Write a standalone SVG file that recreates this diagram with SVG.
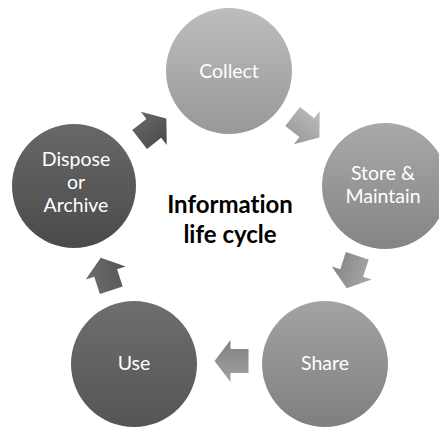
<svg xmlns="http://www.w3.org/2000/svg" width="439" height="428" viewBox="0 0 439 428">
<style>
text{font-variant-ligatures:none}
.lbl{font-family:Lato,"Open Sans","Liberation Sans",sans-serif;font-size:19.5px;fill:#ffffff;text-anchor:middle}
.title{font-family:Lato,"Open Sans","Liberation Sans",sans-serif;font-size:24px;font-weight:bold;fill:#000000;text-anchor:middle}
</style>
<defs>
<linearGradient id="g1" x1="0" y1="0" x2="0" y2="1"><stop offset="0" stop-color="#bdbdbd"/><stop offset="1" stop-color="#989898"/></linearGradient>
<linearGradient id="g2" x1="0" y1="0" x2="0" y2="1"><stop offset="0" stop-color="#a9a9a9"/><stop offset="1" stop-color="#848484"/></linearGradient>
<linearGradient id="g3" x1="0" y1="0" x2="0" y2="1"><stop offset="0" stop-color="#a3a3a3"/><stop offset="1" stop-color="#7f7f7f"/></linearGradient>
<linearGradient id="g4" x1="0" y1="0" x2="0" y2="1"><stop offset="0" stop-color="#6e6e6e"/><stop offset="1" stop-color="#555555"/></linearGradient>
<linearGradient id="g5" x1="0" y1="0" x2="0" y2="1"><stop offset="0" stop-color="#686868"/><stop offset="1" stop-color="#4a4a4a"/></linearGradient>
<path id="arr" d="M-17,-12 L1,-12 L1,-21 L17,0 L1,21 L1,12 L-17,12 Z"/>
</defs>
<g id="connectors">
<use href="#arr" transform="translate(306,127) rotate(38)" fill="url(#g1)"/>
<use href="#arr" transform="translate(352,272) rotate(108)" fill="url(#g2)"/>
<use href="#arr" transform="translate(231.5,361) rotate(180)" fill="url(#g3)"/>
<use href="#arr" transform="translate(106,274) rotate(252)" fill="url(#g4)"/>
<use href="#arr" transform="translate(153,129) rotate(322)" fill="url(#g5)"/>
</g>
<g id="collect">
<circle cx="229" cy="71" r="63" fill="url(#g1)"/>
<text class="lbl" x="229" y="78">Collect</text>
</g>
<g id="store">
<circle cx="385" cy="186" r="63" fill="url(#g2)"/>
<text class="lbl" x="383" y="180">Store &amp;</text>
<text class="lbl" x="383" y="203">Maintain</text>
</g>
<g id="share">
<circle cx="325" cy="364" r="63" fill="url(#g3)"/>
<text class="lbl" x="325" y="370">Share</text>
</g>
<g id="use">
<circle cx="134" cy="364" r="63" fill="url(#g4)"/>
<text class="lbl" x="134" y="370">Use</text>
</g>
<g id="dispose">
<circle cx="74" cy="186" r="62" fill="url(#g5)"/>
<text class="lbl" x="76" y="166">Dispose</text>
<text class="lbl" x="76" y="189">or</text>
<text class="lbl" x="76" y="212">Archive</text>
</g>
<g id="title">
<text class="title" x="230" y="213">Information</text>
<text class="title" x="230" y="243">life cycle</text>
</g>
</svg>
